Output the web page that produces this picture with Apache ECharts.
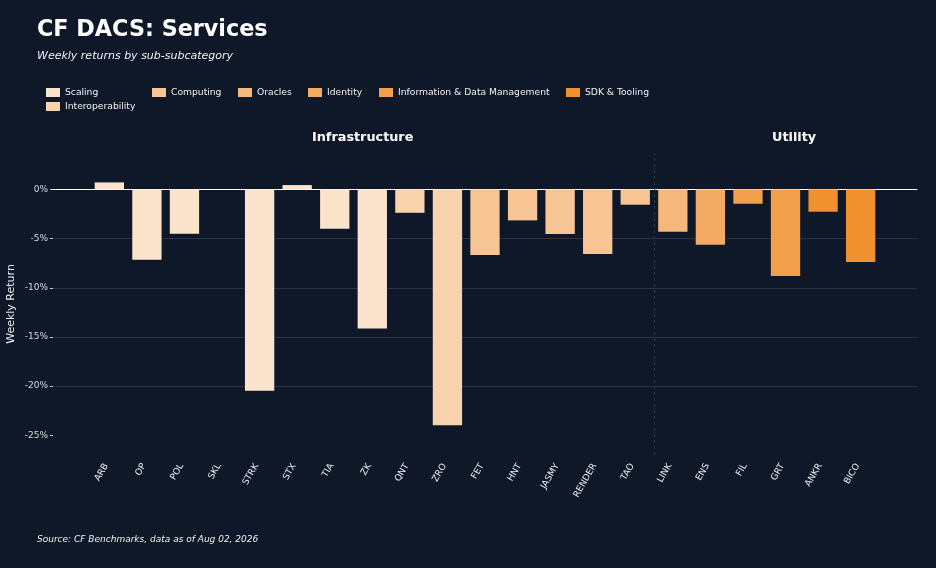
<!DOCTYPE html>
<html>
<head>
<meta charset="utf-8">
<title>CF DACS: Services</title>
<script src="https://cdn.jsdelivr.net/npm/echarts@6/dist/echarts.min.js"></script>
<style>
  html, body { margin: 0; padding: 0; background: #0f1829; }
  #chart { width: 936px; height: 568px; }
</style>
</head>
<body>
<div id="chart"></div>
<script>
// tickers in plot order
const tickers = ['ARB', 'OP', 'POL', 'SKL', 'STRK', 'STX', 'TIA', 'ZK', 'QNT', 'ZRO',
    'FET', 'HNT', 'JASMY', 'RENDER', 'TAO', 'LINK', 'ENS', 'FIL', 'GRT', 'ANKR', 'BICO'];

// weekly return, %
const weeklyReturns = [0.71, -7.15, -4.50, 0, -20.47, 0.44, -4.00, -14.13, -2.38, -23.98,
    -6.67, -3.15, -4.54, -6.57, -1.56, -4.30, -5.62, -1.46, -8.81, -2.27, -7.38];

// sub-subcategory of each ticker
const tickerSubcat = ['Scaling', 'Scaling', 'Scaling', 'Scaling', 'Scaling', 'Scaling', 'Scaling', 'Scaling',
    'Interoperability', 'Interoperability',
    'Computing', 'Computing', 'Computing', 'Computing', 'Computing',
    'Oracles', 'Identity',
    'Information & Data Management', 'Information & Data Management',
    'SDK & Tooling', 'SDK & Tooling'];

const subcatNames = ['Scaling', 'Interoperability', 'Computing', 'Oracles', 'Identity',
    'Information & Data Management', 'SDK & Tooling'];
const subcatColors = ['#fce4cc', '#f9d3ad', '#f7c594', '#f5b77b', '#f3aa62', '#f29f4c', '#f0902e'];

// subcategory groups (number of tickers in each)
const groupNames = ['Infrastructure', 'Utility'];
const groupSizes = [15, 6];

const yTicks = [-25, -20, -15, -10, -5, 0];

const FONT = 'DejaVu Sans';
const chart = echarts.init(document.getElementById('chart'));

// one empty slot either side, like the reference axis
const axisCats = [''].concat(tickers, ['']);

const barSeries = subcatNames.map((name, i) => ({
    name: name,
    type: 'bar',
    stack: 'ret',
    barWidth: '78%',
    itemStyle: { color: subcatColors[i] },
    data: [null].concat(weeklyReturns.map((v, k) => tickerSubcat[k] === name ? v : null), [null])
}));

// legend laid out like the reference (column major, 6 columns)
const legendSpots = [
    [46, 88], [46, 102], [152, 88], [238, 88], [308, 88], [379, 88], [566, 88]
];
const legends = subcatNames.map((name, i) => ({
    data: [name],
    left: legendSpots[i][0],
    top: legendSpots[i][1],
    padding: 0,
    itemWidth: 14,
    itemHeight: 9,
    icon: 'rect',
    selectedMode: false,
    textStyle: { color: '#f0f0f0', fontSize: 9.2, fontFamily: FONT }
}));

const sepAt = groupSizes[0] + 1;

chart.setOption({
    backgroundColor: '#0f1829',
    animation: false,
    title: {
        text: 'CF DACS: Services',
        subtext: 'Weekly returns by sub-subcategory',
        left: 32,
        top: 14,
        itemGap: 10,
        textStyle: { color: '#ffffff', fontSize: 22.3, fontWeight: 'bold', fontFamily: FONT },
        subtextStyle: { color: '#f0f0f0', fontSize: 11, fontStyle: 'italic', fontFamily: FONT }
    },
    legend: legends,
    grid: { left: 53, right: 19, top: 153, bottom: 113, outerBoundsMode: 'none' },
    xAxis: [{
        type: 'category',
        data: axisCats,
        axisLine: { show: false, onZero: false },
        axisTick: { show: false },
        axisLabel: {
            interval: 0,
            rotate: 60,
            margin: 4,
            formatter: v => v ? '{t|' + v + '}' : '',
            rich: {
                t: { color: '#eeeeee', fontSize: 9, fontFamily: FONT, padding: [0, 6, 0, 0] }
            }
        }
    }, {
        type: 'value',
        position: 'top',
        min: 0,
        max: axisCats.length,
        axisLine: { show: true, onZero: true, lineStyle: { color: '#ffffff', width: 1 } },
        axisTick: { show: false },
        axisLabel: { show: false },
        splitLine: { show: false }
    }],
    yAxis: {
        type: 'value',
        min: -27,
        max: 3.7,
        splitNumber: 6,
        name: 'Weekly Return',
        nameLocation: 'middle',
        nameRotate: 90,
        nameGap: 36,
        nameMoveOverlap: false,
        nameTextStyle: { color: '#eeeeee', fontSize: 11, fontFamily: FONT },
        axisLine: { show: false },
        axisTick: { show: true, length: 3, customValues: yTicks, lineStyle: { color: '#c8ccd4' } },
        axisLabel: {
            customValues: yTicks,
            margin: 5,
            color: '#d6d9de',
            fontSize: 9,
            fontFamily: FONT,
            formatter: v => v + '%'
        },
        splitLine: {
            show: true,
            showMinLine: false,
            showMaxLine: false,
            lineStyle: { color: '#2a3445', width: 1 }
        }
    },
    graphic: [{
        type: 'text',
        left: 312,
        top: 131,
        style: { text: groupNames[0], fill: '#ffffff', font: 'bold 12.8px "DejaVu Sans"' }
    }, {
        type: 'text',
        left: 772,
        top: 131,
        style: { text: groupNames[1], fill: '#ffffff', font: 'bold 12.8px "DejaVu Sans"' }
    }, {
        type: 'text',
        left: 37,
        top: 535,
        style: {
            text: 'Source: CF Benchmarks, data as of Aug 02, 2026',
            fill: '#f0f0f0',
            font: 'italic 9px "DejaVu Sans"'
        }
    }],
    series: barSeries.concat([{
        name: 'sep',
        type: 'line',
        xAxisIndex: 1,
        data: [],
        markLine: {
            silent: true,
            symbol: 'none',
            label: { show: false },
            lineStyle: { color: '#2e3a4d', type: [3, 3], width: 1 },
            data: [{ xAxis: sepAt }]
        }
    }])
});
</script>
</body>
</html>
